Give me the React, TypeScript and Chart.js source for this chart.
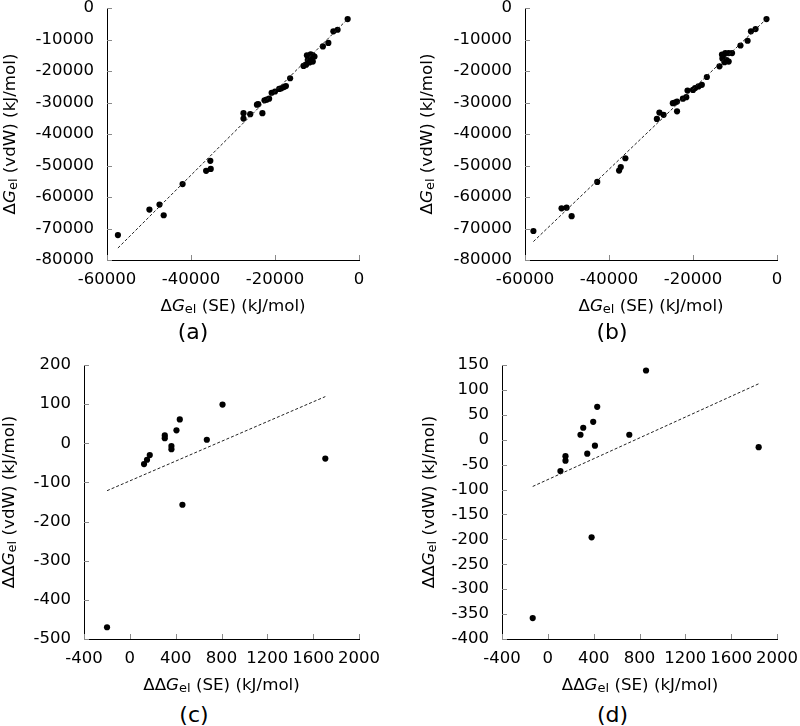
import React, { useEffect, useRef } from "react";
import { Chart, registerables } from "chart.js";

Chart.register(...registerables);

// ---------- data ----------
// Panel (a): ΔGel (SE) vs ΔGel (vdW)
const aX = [-2700, -5100, -6100, -7300, -8600, -12400, -12000, -11500, -11000, -10600, -12200, -11300, -11800, -12600, -13200, -11000, -16400, -17400, -17900, -18500, -19000, -20000, -20800, -21400, -22000, -22500, -24300, -24000, -23000, -25900, -27500, -27500, -35400, -35300, -36400, -42000, -47500, -49900, -46500, -57400];
const aY = [-3500, -6900, -7400, -11100, -12200, -15000, -15500, -14700, -15000, -15400, -16500, -16200, -17300, -18000, -18400, -17000, -22300, -24800, -25100, -25500, -25700, -26500, -26900, -28800, -29100, -29300, -30700, -30500, -33400, -33700, -33400, -35100, -48500, -51100, -51700, -55900, -62400, -64000, -65800, -72100];
const aFit = [1.329, 85]; // slope, intercept

// Panel (b)
const bX = [-2500, -5100, -6200, -7000, -8700, -13100, -12300, -11500, -10700, -12800, -12000, -11500, -13700, -12500, -13000, -16700, -17900, -18700, -19500, -20000, -21300, -21600, -22400, -23800, -24800, -24300, -23800, -27000, -28000, -28600, -36100, -37200, -37600, -42800, -50100, -51300, -48900, -58000];
const bY = [-3500, -6700, -7400, -10400, -11900, -14800, -14300, -14300, -14300, -15900, -16500, -17000, -18500, -17200, -16000, -21900, -24400, -24900, -25400, -26000, -26200, -28300, -28800, -29700, -30200, -30000, -32800, -33900, -33200, -35200, -47700, -50500, -51600, -55200, -63400, -63600, -66100, -70800];
const bFit = [1.274, -257];

// Panel (c): ΔΔGel
const cX = [-199, 124, 150, 174, 305, 305, 363, 363, 407, 436, 459, 672, 809, 1706];
const cY = [-470, -53, -42, -30, 20, 13, -7, -15, 33, 61, -157, 9, 99, -39];
const cFit = [0.1262, -96];

// Panel (d)
const dX = [-132, 110, 154, 154, 285, 309, 344, 382, 396, 411, 431, 711, 857, 1840];
const dY = [-358, -63, -33, -42, 10, 24, -28, -196, 36, -12, 66, 10, 139, -15];
const dFit = [0.1045, -80];

// axis ranges: [min, max, step]
const abXAxis = [-60000, 0, 20000];
const abYAxis = [-80000, 0, 10000];
const cXAxis = [-400, 2000, 400];
const cYAxis = [-500, 200, 100];
const dXAxis = [-400, 2000, 400];
const dYAxis = [-400, 150, 50];

const captions = ["(a)", "(b)", "(c)", "(d)"];

const FONT = '"DejaVu Sans", sans-serif';
const TICK_SIZE = 16.5;
const TITLE_SIZE = 16.7;

type PanelCfg = {
  left: number;
  plot: { l: number; t: number; r: number; b: number };
  xs: number[]; ys: number[]; fit: number[];
  xAxis: number[]; yAxis: number[];
};

const TOP_MARGIN = 30;
const RIGHT_MARGIN = 48;
const X_AXIS_H = 36;

const innerTicks = {
  id: "innerTicks",
  beforeDatasetsDraw(chart: any) {
    const ctx = chart.ctx;
    const { left, bottom } = chart.chartArea;
    ctx.save();
    ctx.strokeStyle = "#8a8a8a";
    ctx.lineWidth = 1;
    const xs = chart.scales.x;
    const ys = chart.scales.y;
    ctx.beginPath();
    xs.ticks.forEach((t: any) => {
      const px = Math.round(xs.getPixelForValue(t.value)) + 0.5;
      ctx.moveTo(px, Math.round(bottom));
      ctx.lineTo(px, Math.round(bottom) - 5);
    });
    ys.ticks.forEach((t: any) => {
      const py = Math.round(ys.getPixelForValue(t.value)) + 0.5;
      ctx.moveTo(Math.round(left), py);
      ctx.lineTo(Math.round(left) + 5, py);
    });
    ctx.stroke();
    ctx.restore();
  },
};

function Panel({ cfg }: { cfg: PanelCfg }) {
  const ref = useRef<HTMLCanvasElement | null>(null);
  const { left, plot } = cfg;
  const top = plot.t - TOP_MARGIN;
  const width = plot.r + RIGHT_MARGIN - left;
  const height = plot.b + X_AXIS_H - top;
  useEffect(() => {
    if (!ref.current) return;
    const { xs, ys, fit, xAxis, yAxis } = cfg;
    const yw = plot.l - left;
    const minX = Math.min(...xs);
    const maxX = Math.max(...xs);
    const fitLine = [
      { x: minX, y: fit[0] * minX + fit[1] },
      { x: maxX, y: fit[0] * maxX + fit[1] },
    ];
    const tickFont = { family: FONT, size: TICK_SIZE };
    const chart = new Chart(ref.current, {
      type: "scatter",
      data: {
        datasets: [
          {
            data: fitLine,
            showLine: true,
            borderColor: "#222",
            borderWidth: 1,
            borderDash: [3, 2],
            pointRadius: 0,
            fill: false,
          },
          {
            data: xs.map((x, i) => ({ x, y: ys[i] })),
            pointRadius: 3.1,
            pointBackgroundColor: "#000",
            pointBorderWidth: 0,
            backgroundColor: "#000",
            borderWidth: 0,
          },
        ],
      },
      options: {
        responsive: false,
        animation: false,
        events: [],
        layout: { padding: { top: TOP_MARGIN, right: RIGHT_MARGIN, left: 0, bottom: 0 } },
        plugins: { legend: { display: false }, tooltip: { enabled: false } },
        scales: {
          x: {
            type: "linear",
            min: xAxis[0],
            max: xAxis[1],
            ticks: {
              stepSize: xAxis[2],
              font: tickFont,
              color: "#000",
              padding: 10,
              autoSkip: false,
              maxRotation: 0,
              callback: (v: any) => String(v),
            },
            grid: { display: false, drawTicks: false },
            border: { display: true, color: "#000", width: 1 },
            afterFit: (s: any) => { s.height = X_AXIS_H; },
          },
          y: {
            type: "linear",
            min: yAxis[0],
            max: yAxis[1],
            ticks: {
              stepSize: yAxis[2],
              font: tickFont,
              color: "#000",
              padding: 13,
              autoSkip: false,
              callback: (v: any) => String(v),
            },
            grid: { display: false, drawTicks: false },
            border: { display: true, color: "#000", width: 1 },
            afterFit: (s: any) => { s.width = yw; },
          },
        },
      },
      plugins: [innerTicks],
    } as any);
    return () => chart.destroy();
  }, [cfg]);
  return (
    <canvas
      ref={ref}
      width={width}
      height={height}
      style={{ position: "absolute", left, top, width, height }}
    />
  );
}

function Label({ dd, kind }: { dd: boolean; kind: string }) {
  return (
    <>
      {dd ? "ΔΔ" : "Δ"}
      <i>G</i>
      <span style={{ fontSize: "0.78em", position: "relative", top: "0.15em" }}>el</span>
      {` (${kind}) (kJ/mol)`}
    </>
  );
}

const panels: PanelCfg[] = [
  { left: 0, plot: { l: 107, t: 8, r: 359, b: 260 }, xs: aX, ys: aY, fit: aFit, xAxis: abXAxis, yAxis: abYAxis },
  { left: 400, plot: { l: 525, t: 8, r: 777, b: 260 }, xs: bX, ys: bY, fit: bFit, xAxis: abXAxis, yAxis: abYAxis },
  { left: 0, plot: { l: 84, t: 365, r: 359, b: 639 }, xs: cX, ys: cY, fit: cFit, xAxis: cXAxis, yAxis: cYAxis },
  { left: 400, plot: { l: 502, t: 365, r: 777, b: 639 }, xs: dX, ys: dY, fit: dFit, xAxis: dXAxis, yAxis: dYAxis },
];

// text positions (centres)
const yTitlePos = [[8.5, 134], [426, 134], [8, 502], [427.5, 502]];
const xTitlePos = [[233, 305], [651, 305], [221.5, 684], [640, 684]];
const capPos = [[193, 331], [612, 331], [194, 714], [612.5, 714]];

export default function App() {
  const textBase: React.CSSProperties = {
    position: "absolute",
    whiteSpace: "nowrap",
    fontFamily: FONT,
    fontSize: TITLE_SIZE,
    color: "#000",
    lineHeight: "normal",
  };
  return (
    <div style={{ position: "fixed", left: 0, top: 0, width: 800, height: 726, background: "#fff", overflow: "hidden" }}>
      {panels.map((p, i) => (
        <Panel key={i} cfg={p} />
      ))}
      {panels.map((p, i) => (
        <div
          key={"y" + i}
          style={{ ...textBase, left: yTitlePos[i][0], top: yTitlePos[i][1], transform: "translate(-50%, -50%) rotate(-90deg)" }}
        >
          <Label dd={i >= 2} kind="vdW" />
        </div>
      ))}
      {panels.map((p, i) => (
        <div key={"x" + i} style={{ ...textBase, left: xTitlePos[i][0], top: xTitlePos[i][1], transform: "translate(-50%, -50%)" }}>
          <Label dd={i >= 2} kind="SE" />
        </div>
      ))}
      {captions.map((c, i) => (
        <div key={"c" + i} style={{ ...textBase, fontSize: 22, left: capPos[i][0], top: capPos[i][1], transform: "translate(-50%, -50%)" }}>
          {c}
        </div>
      ))}
    </div>
  );
}
